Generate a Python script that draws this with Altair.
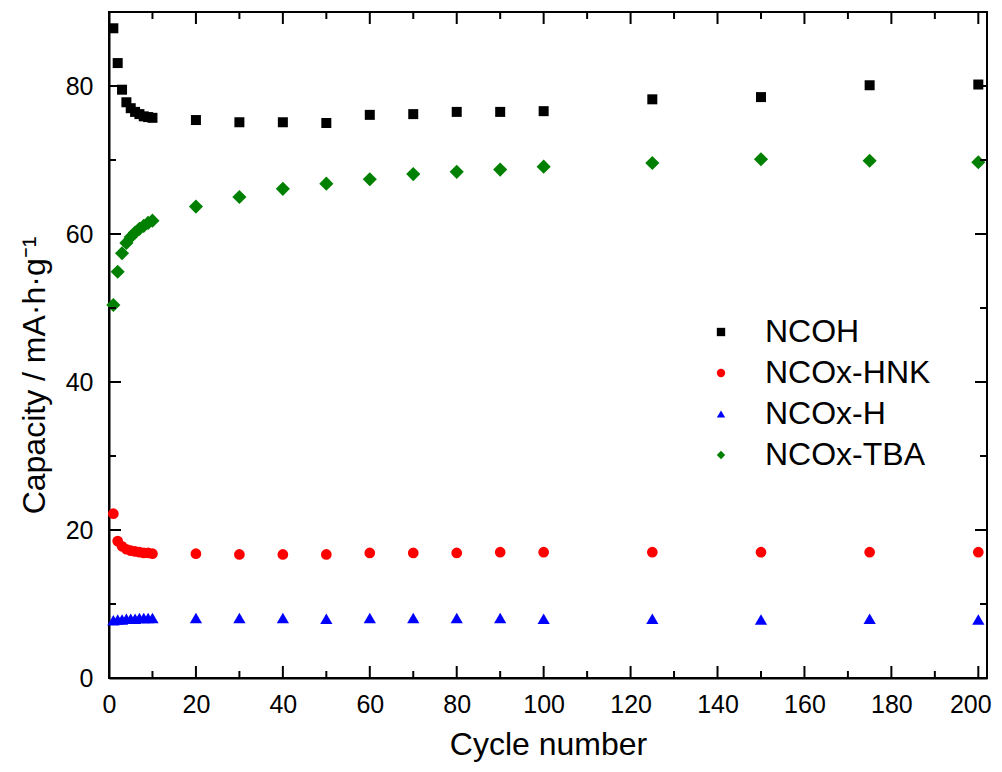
import altair as alt
import pandas as pd

cycles = [1, 2, 3, 4, 5, 6, 7, 8, 9, 10, 20, 30, 40, 50, 60, 70, 80, 90, 100, 125, 150, 175, 200]
ncoh = [87.8, 83.1, 79.5, 77.8, 77.0, 76.5, 76.2, 75.9, 75.8, 75.7, 75.4, 75.1, 75.1, 75.0, 76.1, 76.2, 76.5, 76.5, 76.6, 78.2, 78.5, 80.1, 80.2]
hnk = [22.2, 18.5, 17.8, 17.4, 17.2, 17.1, 17.0, 16.9, 16.9, 16.8, 16.8, 16.7, 16.7, 16.7, 16.9, 16.9, 16.9, 17.0, 17.0, 17.0, 17.0, 17.0, 17.0]
nh = [7.8, 7.9, 7.9, 8.0, 8.0, 8.0, 8.1, 8.1, 8.1, 8.1, 8.1, 8.1, 8.1, 8.0, 8.1, 8.1, 8.1, 8.1, 8.0, 8.0, 7.9, 8.0, 7.9]
tba = [50.4, 54.9, 57.4, 58.8, 59.6, 60.2, 60.7, 61.1, 61.5, 61.8, 63.7, 65.0, 66.1, 66.8, 67.4, 68.1, 68.4, 68.7, 69.1, 69.6, 70.1, 69.9, 69.7]

series = ["NCOH", "NCOx-HNK", "NCOx-H", "NCOx-TBA"]
colors = ["#000000", "#ff0000", "#0000ff", "#008000"]
shapes = ["square", "circle", "triangle-up", "diamond"]
sizes = [100, 115, 150, 200]

x_major = [0, 20, 40, 60, 80, 100, 120, 140, 160, 180, 200]
x_minor = [10, 30, 50, 70, 90, 110, 130, 150, 170, 190]
y_major = [0, 20, 40, 60, 80]
y_minor = [10, 30, 50, 70]

rows = []
for name, vals, sz in zip(series, [ncoh, hnk, nh, tba], sizes):
    for c, v in zip(cycles, vals):
        rows.append({"cycle": c, "capacity": v, "series": name, "msize": sz})
df = pd.DataFrame(rows)

W, H = 878, 666
FONT = "Liberation Sans"
xscale = alt.Scale(domain=[0, 202], nice=False, zero=False)
yscale = alt.Scale(domain=[0, 90], nice=False)

legend = alt.Legend(
    title=None, orient="none", legendX=596, legendY=304,
    labelFontSize=32, labelFont=FONT, labelColor="black", labelLimit=0,
    symbolSize=70, symbolStrokeWidth=0, labelOffset=28, rowPadding=9,
)

x_axis = alt.Axis(
    orient="bottom", title="Cycle number", values=x_major, ticks=False, tickSize=0,
    grid=False, domain=True, domainColor="black", domainWidth=2,
    labelFontSize=25, labelFont=FONT, labelColor="black", labelPadding=14,
    labelOffset={"condition": {"test": "datum.value === 200", "value": -8}, "value": 0},
    titleFontSize=32, titleFont=FONT, titleFontWeight="normal", titleColor="black",
    titlePadding=12, labelFlush=False)
y_axis = alt.Axis(
    orient="left", title="Capacity / mA·h·g⁻¹", values=y_major, ticks=False, tickSize=0,
    grid=False, domain=True, domainColor="black", domainWidth=2,
    labelFontSize=25, labelFont=FONT, labelColor="black", labelPadding=16,
    titleFontSize=32, titleFont=FONT, titleFontWeight="normal", titleColor="black",
    titlePadding=14, titleY=363, labelFlush=False)

main = alt.Chart(df).mark_point(filled=True, opacity=1).encode(
    x=alt.X("cycle:Q", scale=xscale, axis=x_axis, title="Cycle number"),
    y=alt.Y("capacity:Q", scale=yscale, axis=y_axis, title="Capacity / mA·h·g⁻¹"),
    color=alt.Color("series:N", scale=alt.Scale(domain=series, range=colors), legend=legend),
    shape=alt.Shape("series:N", scale=alt.Scale(domain=series, range=shapes), legend=legend),
    size=alt.Size("msize:Q", scale=None, legend=None),
)

def xticks(vals, edge, length):
    inward = edge - length if edge > 0 else length
    return alt.Chart(pd.DataFrame({"cycle": vals})).mark_rule(color="black", strokeWidth=2).encode(
        x=alt.X("cycle:Q", scale=xscale, axis=x_axis, title="Cycle number"),
        y=alt.value(edge), y2=alt.value(inward),
    )

def yticks(vals, edge, length):
    inward = edge - length if edge > 0 else length
    return alt.Chart(pd.DataFrame({"capacity": vals})).mark_rule(color="black", strokeWidth=2).encode(
        y=alt.Y("capacity:Q", scale=yscale, axis=y_axis, title="Capacity / mA·h·g⁻¹"),
        x=alt.value(edge), x2=alt.value(inward),
    )

tick_layers = [
    xticks(x_major, H, 12), xticks(x_minor, H, 7),
    xticks(x_major, 0, 12), xticks(x_minor, 0, 7),
    yticks(y_major, 0, 12), yticks(y_minor, 0, 7),
    yticks(y_major, W, 12), yticks(y_minor, W, 7),
]

chart = alt.layer(main, *tick_layers).properties(
    width=W, height=H, background="white",
    autosize=alt.AutoSizeParams(type="none"),
    padding={"left": 101, "top": 4, "right": 7, "bottom": 86},
).configure_view(stroke="black", strokeWidth=2)

chart.save("out.html", embed_options={"renderer": "svg", "actions": False})
